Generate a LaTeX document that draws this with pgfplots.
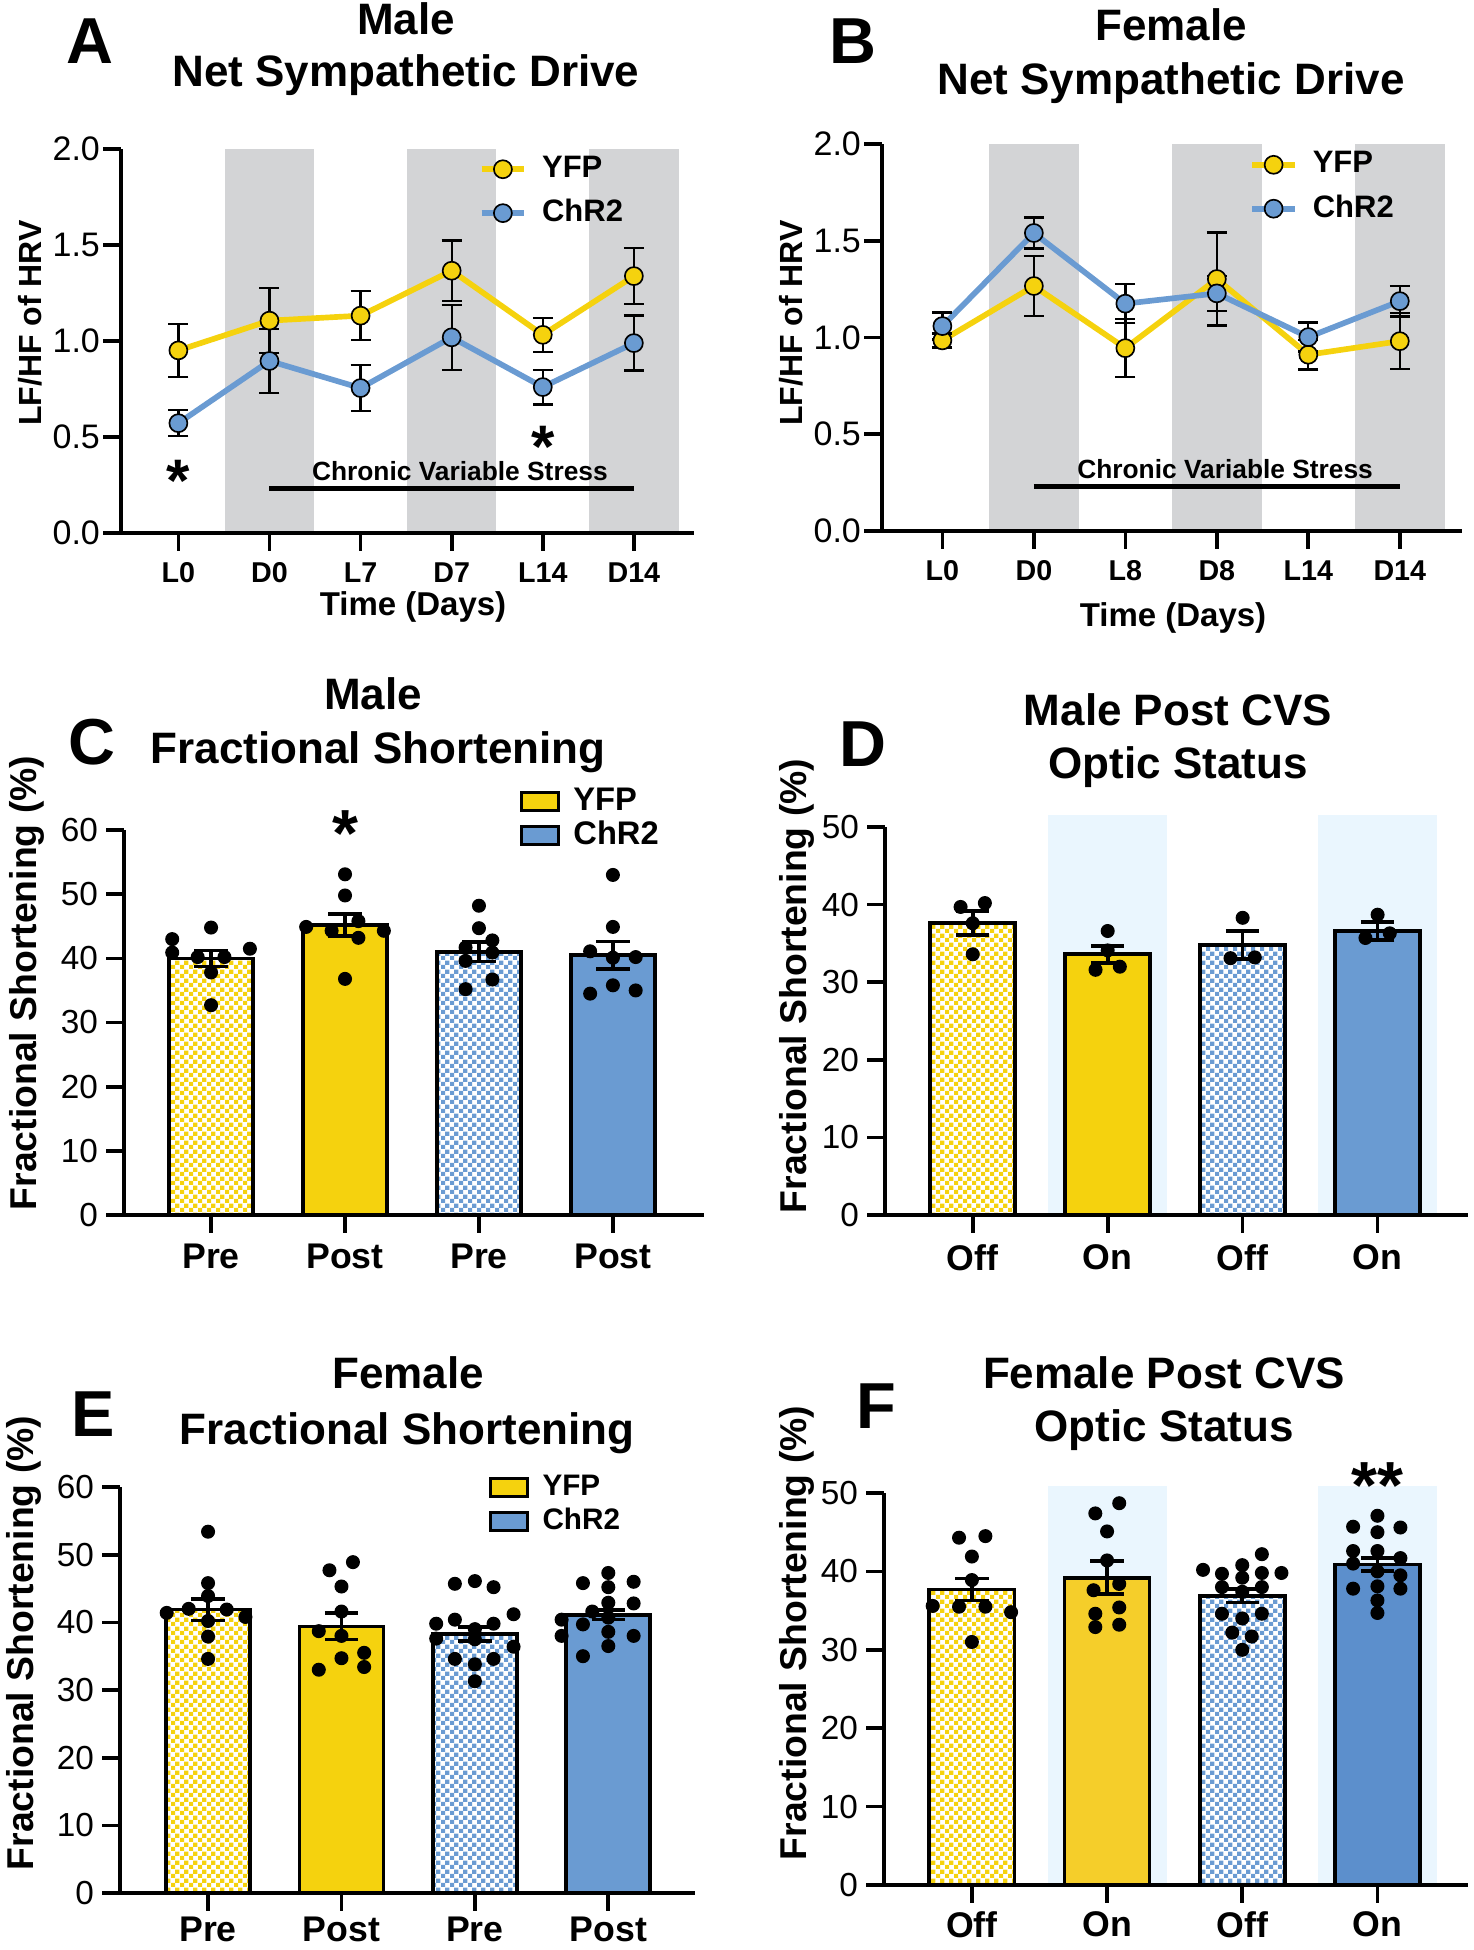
\documentclass[border=0pt]{standalone}
\usepackage{pgfplots}
\pgfplotsset{compat=1.18}
\usepackage{fontspec}
\setmainfont{Liberation Sans}
\usetikzlibrary{patterns}
\definecolor{yfp}{HTML}{F5D20E}
\definecolor{chr}{HTML}{6A9BD2}
\definecolor{yfpF}{HTML}{F5CE2A}
\definecolor{chrF}{HTML}{5C8FCC}
\definecolor{bandgray}{HTML}{D3D4D6}
\definecolor{bandblue}{HTML}{EAF6FE}
\pgfdeclarepatternformonly{fcheck}{\pgfpointorigin}{\pgfqpoint{2.7pt}{2.7pt}}{\pgfqpoint{2.7pt}{2.7pt}}{%
  \pgfpathrectangle{\pgfpointorigin}{\pgfqpoint{1.4pt}{1.4pt}}%
  \pgfpathrectangle{\pgfqpoint{1.35pt}{1.35pt}}{\pgfqpoint{1.4pt}{1.4pt}}%
  \pgfusepath{fill}}
\newcommand{\fs}[1]{\fontsize{#1}{#1}\selectfont}
\newcommand{\sigast}[1]{\raisebox{-0.42em}[0.31em][0pt]{#1}}
\pgfplotsset{
  prism/.style={
    scale only axis, anchor=south west, clip=false, axis on top,
    axis lines=left, axis line style={-, line width=1.1pt, black},
    tick align=outside, major tick length=5.3pt,
    tick style={black, line width=1.1pt},
    yticklabel style={font=\fs{10}, xshift=1pt},
    xticklabel style={font=\bfseries\fs{10.7}},
  },
  linerr/.style={error bars/y dir=both, error bars/y explicit,
    error bars/error bar style={black, line width=0.7pt},
    error bars/error mark options={rotate=90, black, mark size=3pt, line width=0.7pt}},
  barerr/.style={error bars/y dir=both, error bars/y explicit,
    error bars/error bar style={black, line width=1.1pt},
    error bars/error mark options={rotate=90, black, mark size=5pt, line width=1.1pt}},
  barP/.style={ybar, bar shift=0pt, bar width=0.63, draw=black, line width=1.1pt, pattern=fcheck, pattern color=#1, barerr},
  barS/.style={ybar, bar shift=0pt, bar width=0.63, draw=black, line width=1.1pt, fill=#1, barerr},
  dots/.style={only marks, mark=*, mark size=1.9pt, black, mark options={draw=black, fill=black}},
  yfpL/.style={color=yfp, line width=1.7pt, mark=*, mark size=2.7pt, mark options={fill=yfp, draw=black, line width=0.5pt}},
  chrL/.style={color=chr, line width=1.7pt, mark=*, mark size=2.7pt, mark options={fill=chr, draw=black, line width=0.5pt}},
  lineleg/.style={legend cell align=left,
    legend image code/.code={\draw[mark repeat=2,mark phase=2,##1] plot coordinates {(0pt,0pt) (6.4pt,0pt) (12.8pt,0pt)};}},
  boxleg/.style={legend cell align=left,
    legend image code/.code={\draw[##1] (0pt,-2.7pt) rectangle (11.1pt,2.7pt);}},
}
\begin{document}
\begin{tikzpicture}
\useasboundingbox (0,0) rectangle (441.9pt,-585pt);

% ---------------- A ----------------
\begin{axis}[prism, at={(36.3pt,-159.9pt)}, width=171.9pt, height=115.2pt,
  xmin=-0.63, xmax=5.66, ymin=0, ymax=2,
  xtick={0,1,2,3,4,5}, xticklabels={L0,D0,L7,D7,L14,D14},
  ytick={0,0.5,1,1.5,2}, yticklabels={0.0,0.5,1.0,1.5,2.0},
  xticklabel style={font=\bfseries\fs{8.6}},
  yticklabel style={font=\fs{10.2}, xshift=1.5pt},
  lineleg,
  legend style={at={(axis cs:3.18,2.01)}, anchor=north west, draw=none, fill=none,
    font=\bfseries\fs{9.3}, row sep=4.1pt, nodes={inner sep=0.5pt}, inner xsep=3pt, inner ysep=2pt,
    /tikz/every odd column/.style={column sep=4pt}},
]
\addplot[draw=none, fill=bandgray, forget plot] coordinates {(0.51,0) (0.51,2) (1.49,2) (1.49,0)} -- cycle;
\addplot[draw=none, fill=bandgray, forget plot] coordinates {(2.51,0) (2.51,2) (3.49,2) (3.49,0)} -- cycle;
\addplot[draw=none, fill=bandgray, forget plot] coordinates {(4.51,0) (4.51,2) (5.49,2) (5.49,0)} -- cycle;
\addplot[black, line width=1.5pt, forget plot] coordinates {(1,0.234) (5,0.234)};
\node[font=\bfseries\fs{7.9}] at (axis cs:3.09,0.323) {Chronic Variable Stress};
\addplot[forget plot, yfpL, linerr] coordinates {
 (0,0.951) +- (0,0.137) (1,1.106) +- (0,0.17) (2,1.132) +- (0,0.128)
 (3,1.366) +- (0,0.157) (4,1.032) +- (0,0.088) (5,1.338) +- (0,0.145)};
\addplot[forget plot, chrL, linerr] coordinates {
 (0,0.572) +- (0,0.068) (1,0.896) +- (0,0.168) (2,0.755) +- (0,0.12)
 (3,1.019) +- (0,0.17) (4,0.760) +- (0,0.09) (5,0.989) +- (0,0.143)};
\addlegendimage{yfpL}\addlegendentry{YFP}
\addlegendimage{chrL}\addlegendentry{ChR2}
\node[font=\bfseries\fs{18}, inner sep=0pt] at (axis cs:0,0.344) {\sigast{*}};
\node[font=\bfseries\fs{18}, inner sep=0pt] at (axis cs:4,0.52) {\sigast{*}};
\end{axis}

% ---------------- B ----------------
\begin{axis}[prism, at={(264.6pt,-159.3pt)}, width=174pt, height=116.1pt,
  xmin=-0.66, xmax=5.68, ymin=0, ymax=2,
  xtick={0,1,2,3,4,5}, xticklabels={L0,D0,L8,D8,L14,D14},
  ytick={0,0.5,1,1.5,2}, yticklabels={0.0,0.5,1.0,1.5,2.0},
  xticklabel style={font=\bfseries\fs{8.6}},
  yticklabel style={font=\fs{10.2}, xshift=1.5pt},
  lineleg,
  legend style={at={(axis cs:3.24,2.007)}, anchor=north west, draw=none, fill=none,
    font=\bfseries\fs{9.3}, row sep=4.1pt, nodes={inner sep=0.5pt}, inner xsep=3pt, inner ysep=2pt,
    /tikz/every odd column/.style={column sep=4pt}},
]
\addplot[draw=none, fill=bandgray, forget plot] coordinates {(0.51,0) (0.51,2) (1.49,2) (1.49,0)} -- cycle;
\addplot[draw=none, fill=bandgray, forget plot] coordinates {(2.51,0) (2.51,2) (3.49,2) (3.49,0)} -- cycle;
\addplot[draw=none, fill=bandgray, forget plot] coordinates {(4.51,0) (4.51,2) (5.49,2) (5.49,0)} -- cycle;
\addplot[black, line width=1.5pt, forget plot] coordinates {(1,0.232) (5,0.232)};
\node[font=\bfseries\fs{7.9}] at (axis cs:3.09,0.318) {Chronic Variable Stress};
\addplot[forget plot, yfpL, linerr] coordinates {
 (0,0.985) +- (0,0.036) (1,1.266) +- (0,0.155) (2,0.945) +- (0,0.15)
 (3,1.302) +- (0,0.24) (4,0.911) +- (0,0.077) (5,0.981) +- (0,0.145)};
\addplot[forget plot, chrL, linerr] coordinates {
 (0,1.059) +- (0,0.07) (1,1.540) +- (0,0.08) (2,1.175) +- (0,0.1)
 (3,1.228) +- (0,0.09) (4,1.002) +- (0,0.075) (5,1.188) +- (0,0.079)};
\addlegendimage{yfpL}\addlegendentry{YFP}
\addlegendimage{chrL}\addlegendentry{ChR2}
\end{axis}

% ---------------- C ----------------
\begin{axis}[prism, at={(37.2pt,-364.5pt)}, width=174pt, height=115.5pt,
  xmin=-0.65, xmax=3.68, ymin=0, ymax=60,
  xtick={0,1,2,3}, xticklabels={Pre,Post,Pre,Post},
  ytick={0,10,20,30,40,50,60}, yticklabels={0,10,20,30,40,50,60},
  boxleg,
  legend style={at={(axis cs:2.225,68.0)}, anchor=north west, draw=none, fill=none,
    font=\bfseries\fs{9.8}, row sep=0.7pt, nodes={inner sep=0.5pt}, inner xsep=3pt, inner ysep=2pt,
    /tikz/every odd column/.style={column sep=3.5pt}},
]
\addplot[forget plot, barP=yfp] coordinates {(0,40.0) +- (0,1.25)};
\addplot[forget plot, barS=yfp] coordinates {(1,45.2) +- (0,1.75)};
\addplot[forget plot, barP=chr] coordinates {(2,41.0) +- (0,1.5)};
\addplot[forget plot, barS=chr] coordinates {(3,40.5) +- (0,2.15)};
\addplot[forget plot, dots] coordinates {
 (0,44.8) (-0.29,43.0) (-0.29,40.9) (0.29,41.5) (-0.1,40.2) (0.1,40.2) (0,37.8) (0,32.7)
 (1,53.1) (1,49.8) (1.1,45.8) (0.71,44.9) (1.29,44.3) (0.9,44.3) (1.1,43.2) (1,36.8)
 (2,48.2) (2,44.7) (2.1,42.8) (1.9,41.7) (2.1,40.9) (1.9,39.6) (2.1,36.7) (1.9,35.2)
 (3,53.0) (3,44.9) (2.83,41.1) (3,40.1) (3.17,40.2) (3,35.8) (2.83,34.5) (3.17,35.0)};
\addlegendimage{fill=yfp, draw=black, line width=1pt}\addlegendentry{YFP}
\addlegendimage{fill=chr, draw=black, line width=1pt}\addlegendentry{ChR2}
\node[font=\bfseries\fs{20}, inner sep=0pt] at (axis cs:1,61.9) {\sigast{*}};
\end{axis}

% ---------------- D ----------------
\begin{axis}[prism, at={(265.5pt,-364.5pt)}, width=174.9pt, height=116.4pt,
  xmin=-0.65, xmax=3.67, ymin=0, ymax=50,
  xtick={0,1,2,3}, xticklabels={Off,On,Off,On},
  ytick={0,10,20,30,40,50}, yticklabels={0,10,20,30,40,50},
]
\addplot[draw=none, fill=bandblue, forget plot] coordinates {(0.56,0) (0.56,51.6) (1.44,51.6) (1.44,0)} -- cycle;
\addplot[draw=none, fill=bandblue, forget plot] coordinates {(2.56,0) (2.56,51.6) (3.44,51.6) (3.44,0)} -- cycle;
\addplot[forget plot, barP=yfp] coordinates {(0,37.6) +- (0,1.55)};
\addplot[forget plot, barS=yfp] coordinates {(1,33.6) +- (0,1.1)};
\addplot[forget plot, barP=chr] coordinates {(2,34.8) +- (0,1.8)};
\addplot[forget plot, barS=chr] coordinates {(3,36.6) +- (0,1.2)};
\addplot[forget plot, dots] coordinates {
 (-0.09,39.7) (0.09,40.2) (0,37.6) (0,33.6)
 (1,36.6) (1,34.1) (0.91,31.6) (1.09,32.0)
 (2,38.3) (1.91,33.1) (2.09,33.2)
 (3,38.7) (2.91,35.7) (3.09,36.3)};
\end{axis}

% ---------------- E ----------------
\begin{axis}[prism, at={(36pt,-567.9pt)}, width=172.5pt, height=121.8pt,
  xmin=-0.66, xmax=3.65, ymin=0, ymax=60,
  xtick={0,1,2,3}, xticklabels={Pre,Post,Pre,Post},
  ytick={0,10,20,30,40,50,60}, yticklabels={0,10,20,30,40,50,60},
  xticklabel style={yshift=1.8pt},
  boxleg,
  legend style={at={(axis cs:2.025,63.1)}, anchor=north west, draw=none, fill=none,
    font=\bfseries\fs{8.9}, row sep=1.4pt, nodes={inner sep=0.5pt}, inner xsep=3pt, inner ysep=2pt,
    /tikz/every odd column/.style={column sep=3.5pt}},
]
\addplot[forget plot, barP=yfp] coordinates {(0,41.9) +- (0,1.6)};
\addplot[forget plot, barS=yfp] coordinates {(1,39.4) +- (0,1.95)};
\addplot[forget plot, barP=chr] coordinates {(2,38.3) +- (0,1.05)};
\addplot[forget plot, barS=chr] coordinates {(3,41.1) +- (0,0.7)};
\addplot[forget plot, dots] coordinates {
 (0,53.4) (0,45.8) (0,43.9) (-0.145,42.0) (0.14,41.9) (0,40.2) (0,37.9) (0,34.6) (0.28,40.8) (-0.31,41.4)
 (1.086,48.9) (0.91,47.7) (1,45.3) (1,41.6) (0.83,38.7) (1,38.0) (1,34.7) (0.83,33.0) (1.17,35.5) (1.17,33.4)
 (1.85,45.7) (2,46.1) (2.14,45.2) (2.29,41.2) (1.71,39.8) (1.85,40.4) (2.14,39.8) (2,39.0) (2,37.5) (2.29,36.4) (1.85,34.6) (2.14,34.6) (2,33.8) (2,31.3) (1.71,37.6)
 (3,47.3) (2.81,45.8) (3.19,46.0) (3,45.2) (3,42.9) (3.19,42.8) (2.81,39.7) (3,40.7) (2.65,40.4) (2.65,38.0) (3,38.6) (3,36.5) (3.19,38.0) (2.81,35.0) (2.88,41.6)};
\addlegendimage{fill=yfp, draw=black, line width=1pt}\addlegendentry{YFP}
\addlegendimage{fill=chr, draw=black, line width=1pt}\addlegendentry{ChR2}
\end{axis}

% ---------------- F ----------------
\begin{axis}[prism, at={(265.2pt,-565.5pt)}, width=175.2pt, height=117.6pt,
  xmin=-0.65, xmax=3.67, ymin=0, ymax=50,
  xtick={0,1,2,3}, xticklabels={Off,On,Off,On},
  ytick={0,10,20,30,40,50}, yticklabels={0,10,20,30,40,50},
  xticklabel style={yshift=0.8pt},
]
\addplot[draw=none, fill=bandblue, forget plot] coordinates {(0.56,0) (0.56,50.9) (1.44,50.9) (1.44,0)} -- cycle;
\addplot[draw=none, fill=bandblue, forget plot] coordinates {(2.56,0) (2.56,50.9) (3.44,50.9) (3.44,0)} -- cycle;
\addplot[forget plot, barP=yfp] coordinates {(0,37.7) +- (0,1.4)};
\addplot[forget plot, barS=yfpF] coordinates {(1,39.2) +- (0,2.1)};
\addplot[forget plot, barP=chr] coordinates {(2,36.9) +- (0,0.85)};
\addplot[forget plot, barS=chrF] coordinates {(3,40.9) +- (0,0.85)};
\addplot[forget plot, dots] coordinates {
 (-0.095,44.3) (0.1,44.5) (0,41.9) (0,38.9) (-0.29,35.6) (-0.095,35.5) (0.1,35.5) (0.29,34.8) (0,31.0)
 (1.09,48.7) (0.913,47.4) (1,45.1) (1,41.4) (1.09,38.4) (0.9,37.6) (0.913,34.6) (1.09,35.4) (0.913,32.9) (1.09,33.2)
 (1.71,40.2) (1.85,39.7) (2,40.8) (2.145,42.2) (2.29,39.8) (2.145,39.8) (2,39.2) (1.85,38.0) (2.145,38.0) (2,37.4) (1.85,34.6) (2,34.0) (2.145,34.6) (1.926,32.2) (2.07,31.7) (2,30.0)
 (3,47.1) (2.82,45.7) (3.17,45.6) (3,45.0) (2.82,42.6) (3,42.6) (3.17,41.7) (2.82,41.0) (3,40.0) (3.17,39.5) (2.82,37.8) (3,38.1) (3.17,37.8) (3,36.3) (3,34.7)};
\node[font=\bfseries\fs{20}, inner sep=0pt] at (axis cs:3,52.9) {\sigast{**}};
\end{axis}

% ---------------- texts ----------------
\tikzset{lt/.style={font=\bfseries\fs{19.5}, anchor=base}, tt/.style={font=\bfseries\fs{13.2}, anchor=base}}
\node[lt] at (26.85pt,-18.99pt) {A};
\node[lt] at (255.9pt,-18.99pt) {B};
\node[lt] at (27.45pt,-229.41pt) {C};
\node[lt] at (258.9pt,-230.01pt) {D};
\node[lt] at (27.9pt,-431.01pt) {E};
\node[lt] at (262.8pt,-428.64pt) {F};
\node[tt] at (121.8pt,-10.41pt) {Male};
\node[tt] at (121.8pt,-25.95pt) {Net Sympathetic Drive};
\node[tt] at (351.3pt,-12.24pt) {Female};
\node[tt] at (351.3pt,-28.41pt) {Net Sympathetic Drive};
\node[tt] at (111.9pt,-212.82pt) {Male};
\node[tt] at (113.4pt,-229.08pt) {Fractional Shortening};
\node[tt] at (353.4pt,-217.56pt) {Male Post CVS};
\node[tt] at (353.4pt,-233.58pt) {Optic Status};
\node[tt] at (122.4pt,-416.55pt) {Female};
\node[tt] at (122.1pt,-433.38pt) {Fractional Shortening};
\node[tt] at (349.2pt,-416.55pt) {Female Post CVS};
\node[tt] at (349.2pt,-432.45pt) {Optic Status};
\node[font=\bfseries\fs{9.9}, anchor=base] at (123.9pt,-184.8pt) {Time (Days)};
\node[font=\bfseries\fs{9.9}, anchor=base] at (351.9pt,-187.95pt) {Time (Days)};
\node[font=\bfseries\fs{9.6}, anchor=base, rotate=90] at (12.3pt,-96.9pt) {LF/HF of HRV};
\node[font=\bfseries\fs{9.6}, anchor=base, rotate=90] at (240.6pt,-96.9pt) {LF/HF of HRV};
\node[font=\bfseries\fs{11.2}, anchor=base, rotate=90] at (10.98pt,-294.9pt) {Fractional Shortening (\%)};
\node[font=\bfseries\fs{11.2}, anchor=base, rotate=90] at (241.8pt,-295.8pt) {Fractional Shortening (\%)};
\node[font=\bfseries\fs{11.2}, anchor=base, rotate=90] at (9.9pt,-492.9pt) {Fractional Shortening (\%)};
\node[font=\bfseries\fs{11.2}, anchor=base, rotate=90] at (241.8pt,-489.9pt) {Fractional Shortening (\%)};
\end{tikzpicture}
\end{document}
